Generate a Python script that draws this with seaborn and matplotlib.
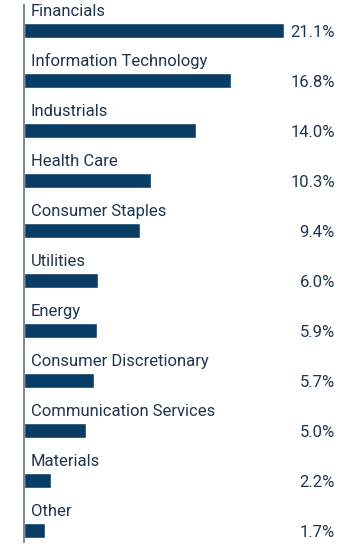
import matplotlib
matplotlib.use("Agg")
import matplotlib.pyplot as plt
import matplotlib.transforms as mtransforms
import pandas as pd
import seaborn as sns

sectors = [
    "Financials", "Information Technology", "Industrials", "Health Care",
    "Consumer Staples", "Utilities", "Energy", "Consumer Discretionary",
    "Communication Services", "Materials", "Other",
]
weights = [21.1, 16.8, 14.0, 10.3, 9.4, 6.0, 5.9, 5.7, 5.0, 2.2, 1.7]

BAR = "#0a3d66"
TEXT = "#1e3550"
AXIS = "#5f7388"

sns.set_theme(style="white")
plt.rcParams["font.family"] = ["Roboto", "DejaVu Sans"]

df = pd.DataFrame({"sector": sectors, "weight": weights})

fig = plt.figure(figsize=(3.6, 5.47), dpi=100)
ax = fig.add_axes([24 / 360, 1 - 542 / 547, 336 / 360, 537 / 547])

sns.barplot(data=df, x="weight", y="sector", orient="h", color=BAR,
            width=0.3, saturation=1, ax=ax)

ax.set_xlim(0, 336 / 12.32)
ax.set_ylim(10.24, -0.5)

for s in ["top", "right", "bottom"]:
    ax.spines[s].set_visible(False)
ax.spines["left"].set_color(AXIS)
ax.spines["left"].set_linewidth(1.2)
ax.set_xticks([])
ax.set_yticks([])
ax.set_xlabel("")
ax.set_ylabel("")

trans = mtransforms.blended_transform_factory(ax.transAxes, ax.transData)
for i, (name, w) in enumerate(zip(sectors, weights)):
    ax.text(7 / 336, i - 0.28, name, transform=trans, ha="left", va="baseline",
            fontsize=12, color=TEXT)
    ax.text(311 / 336, i + 0.05, f"{w:.1f}%", transform=trans, ha="right",
            va="center", fontsize=12, color=TEXT)

fig.savefig("out.png", dpi=100)
